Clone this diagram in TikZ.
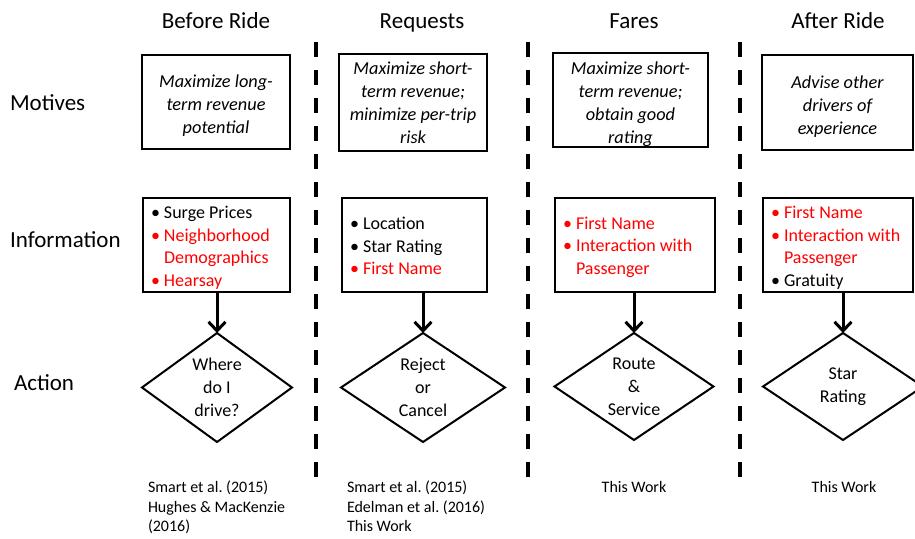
\documentclass[tikz,border=0pt]{standalone}
\usepackage{fontspec}
\setmainfont{Carlito}
\usetikzlibrary{shapes.geometric,arrows.meta}
\definecolor{hl}{RGB}{255,0,0}
\frenchspacing
% natural interword spaces inside aligned node text
\newcommand{\ts}{\spaceskip=0pt\xspaceskip=0pt\relax}
% bulleted line and its hanging continuation inside the information boxes
\newcommand{\bitem}[1]{\makebox[13pt][l]{\textbullet}#1}
\newcommand{\bcont}[1]{\hspace*{13pt}#1}

\begin{document}
\begin{tikzpicture}[x=1pt,y=-1pt,
  every node/.style={inner sep=0pt, outer sep=0pt},
  every label/.style={inner sep=0pt, outer sep=0pt},
  head/.style={font=\fontsize{23}{28}\selectfont, anchor=base},
  rowlabel/.style={font=\fontsize{23}{28}\selectfont, anchor=base west},
  box/.style={draw, line width=2pt},
  mtext/.style={align=center, font=\fontsize{18.3}{23}\selectfont\itshape},
  itext/.style={align=left, font=\fontsize{18}{22.5}\selectfont},
  act/.style={draw, diamond, line width=2pt},
  actlabel/.style={align=center, font=\fontsize{18}{23}\selectfont},
  cite/.style={align=left, anchor=north west, font=\fontsize{16}{19.5}\selectfont},
  citec/.style={anchor=base, font=\fontsize{16}{19.5}\selectfont},
  divider/.style={line width=4pt, dash pattern=on 15pt off 13pt},
  flow/.style={line width=3pt, -{Straight Barb[length=9pt,width=17pt]}}
]
\useasboundingbox (0,0) rectangle (915,538);

% column headings
\node[head] (h1) at (216,28) {Before Ride};
\node[head] (h2) at (422,28) {Requests};
\node[head] (h3) at (634,28) {Fares};
\node[head] (h4) at (838,28) {After Ride};

% row headings
\node[rowlabel] (r1) at (10,110.5) {Motives};
\node[rowlabel] (r2) at (10,247.5) {Information};
\node[rowlabel] (r3) at (14,390.5) {Action};

% column dividers
\coordinate (v1a) at (316,42);  \coordinate (v1b) at (316,477);
\coordinate (v2a) at (528,42);  \coordinate (v2b) at (528,477);
\coordinate (v3a) at (740,42);  \coordinate (v3b) at (740,477);
\draw[divider] (v1a) -- (v1b);
\draw[divider] (v2a) -- (v2b);
\draw[divider] (v3a) -- (v3b);

% motives
\node[box, minimum width=148pt, minimum height=94pt,
  label={[mtext, yshift=-4pt]center:\ts Maximize long-\\term revenue\\potential}]
  (m1) at (216,102) {};
\node[box, minimum width=148pt, minimum height=97pt,
  label={[mtext]center:\ts Maximize short-\\term revenue;\\minimize per-trip\\risk}]
  (m2) at (413,102.5) {};
\node[box, minimum width=155pt, minimum height=94pt,
  label={[mtext, yshift=-4pt]center:\ts Maximize short-\\term revenue;\\obtain good\\rating}]
  (m3) at (630.5,100) {};
\node[box, minimum width=151pt, minimum height=95pt,
  label={[mtext, yshift=-4pt]center:\ts Advise other\\drivers of\\experience}]
  (m4) at (837.5,102.5) {};

% information
\node[box, minimum width=147pt, minimum height=94pt,
  label={[itext, text width=131pt, yshift=-3pt]center:\ts
   \bitem{Surge Prices}\\
   \textcolor{hl}{\bitem{Neighborhood}}\\
   \textcolor{hl}{\bcont{Demographics}}\\
   \textcolor{hl}{\bitem{Hearsay}}}]
  (i1) at (216.5,245) {};
\node[box, minimum width=145pt, minimum height=94pt,
  label={[itext, text width=129pt, yshift=-1pt]center:\ts
   \bitem{Location}\\
   \bitem{Star Rating}\\
   \textcolor{hl}{\bitem{First Name}}}]
  (i2) at (414.5,245) {};
\node[box, minimum width=160pt, minimum height=94pt,
  label={[itext, text width=144pt, yshift=-2pt]center:\ts
   \textcolor{hl}{\bitem{First Name}}\\
   \textcolor{hl}{\bitem{Interaction with}}\\
   \textcolor{hl}{\bcont{Passenger}}}]
  (i3) at (635,245) {};
\node[box, minimum width=150pt, minimum height=94pt,
  label={[itext, text width=134pt, yshift=-3pt]center:\ts
   \textcolor{hl}{\bitem{First Name}}\\
   \textcolor{hl}{\bitem{Interaction with}}\\
   \textcolor{hl}{\bcont{Passenger}}\\
   \bitem{Gratuity}}]
  (i4) at (838,245) {};

% actions
\node[act, minimum width=150pt, minimum height=109pt,
  label={[actlabel]center:Where\\do I\\drive?}] (d1) at (217,387.5) {};
\node[act, minimum width=164pt, minimum height=109pt,
  label={[actlabel]center:Reject\\or\\Cancel}] (d2) at (423,387.5) {};
\node[act, minimum width=159pt, minimum height=107pt,
  label={[actlabel]center:Route\\\&\\Service}] (d3) at (634,386.5) {};
\node[act, minimum width=160pt, minimum height=107pt,
  label={[actlabel]center:Star\\Rating}] (d4) at (843,386.5) {};

% information feeds each action
\draw[flow] (i1.south -| d1.north) -- (d1.north);
\draw[flow] (i2.south -| d2.north) -- (d2.north);
\draw[flow] (i3.south -| d3.north) -- (d3.north);
\draw[flow] (i4.south -| d4.north) -- (d4.north);

% sources
\node[cite] (c1) at (148,481) {\ts Smart et al. (2015)\\Hughes \& MacKenzie\\(2016)};
\node[cite] (c2) at (347,481) {\ts Smart et al. (2015)\\Edelman et al. (2016)\\This Work};
\node[citec] (c3) at (634,492.5) {This Work};
\node[citec] (c4) at (844,492.5) {This Work};
\end{tikzpicture}
\end{document}
